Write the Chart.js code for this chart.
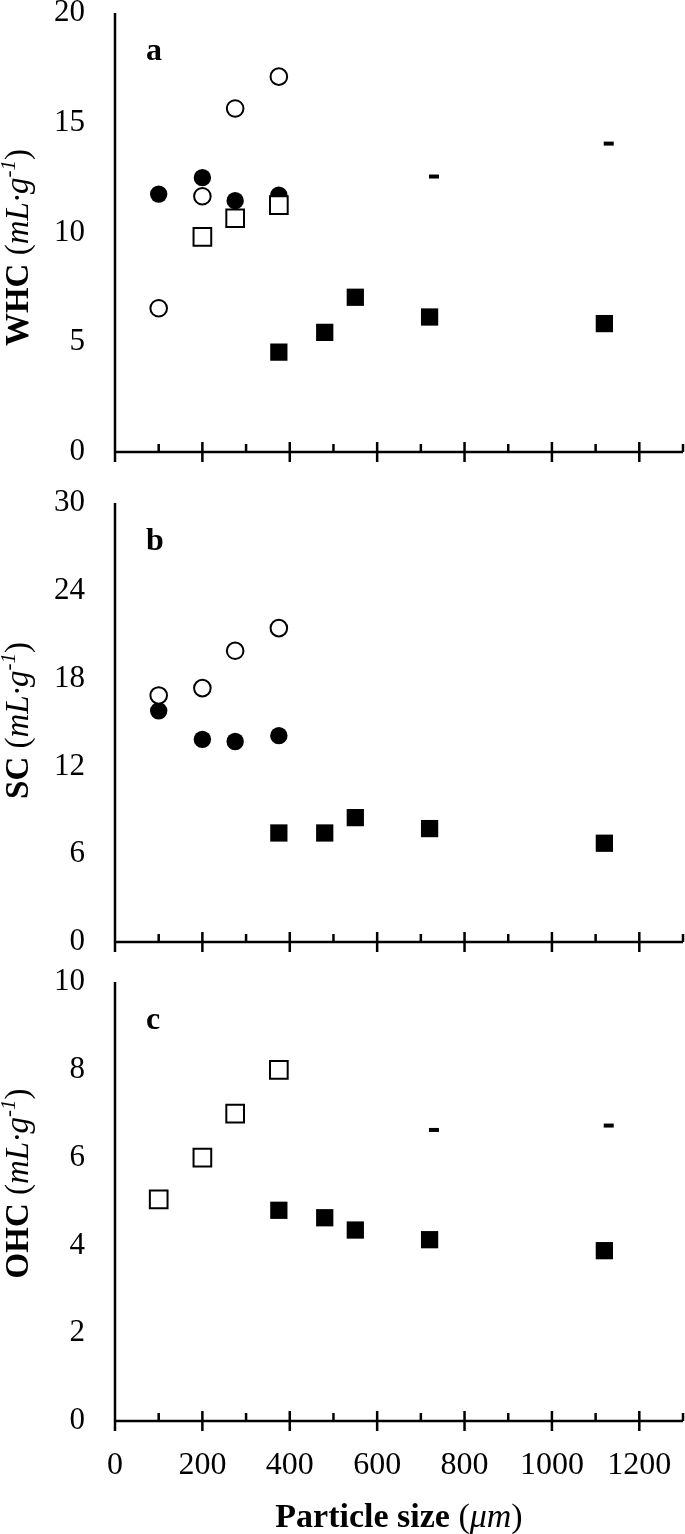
<!DOCTYPE html>
<html>
<head>
<meta charset="utf-8">
<script src="https://cdn.jsdelivr.net/npm/chart.js@4/dist/chart.umd.min.js"></script>
<style>
  html, body { margin: 0; padding: 0; background: #fff; overflow: hidden; }
  body { width: 685px; height: 1534px; position: relative; }
  canvas { position: absolute; left: 0; }
</style>
</head>
<body>
<canvas id="ca" width="700" height="540" style="top:-37px"></canvas>
<canvas id="cb" width="700" height="540" style="top:453px"></canvas>
<canvas id="cc" width="700" height="602" style="top:932px"></canvas>
<script>
// ---------- data ----------
const xGroupA = [100, 200, 275, 375];          // open / filled circles
const xOpenSquareA = [200, 275, 375];
const xOpenSquareC = [100, 200, 275, 375];
const xFilledSquare = [375, 480, 550, 720, 1120];
const xDash = [730, 1130];

const whcOpenCircle  = [6.55, 11.65, 15.65, 17.1];
const whcFilledCircle = [11.75, 12.5, 11.45, 11.7];
const whcOpenSquare  = [9.8, 10.65, 11.25];
const whcFilledSquare = [4.55, 5.45, 7.05, 6.15, 5.85];
const whcDash        = [12.55, 14.05];

const scOpenCircle   = [16.85, 17.35, 19.9, 21.45];
const scFilledCircle = [15.8, 13.85, 13.7, 14.1];
const scFilledSquare = [7.45, 7.45, 8.5, 7.75, 6.75];

const ohcOpenSquare  = [5.05, 6.0, 7.0, 8.0];
const ohcFilledSquare = [4.8, 4.63, 4.35, 4.13, 3.88];
const ohcDash        = [6.63, 6.73];

const yTicksA = [0, 5, 10, 15, 20];
const yTicksB = [0, 6, 12, 18, 24, 30];
const yTicksC = [0, 2, 4, 6, 8, 10];
const xTicks  = [0, 200, 400, 600, 800, 1000, 1200];
const xMinorTicks = [100, 300, 500, 700, 900, 1100, 1300];
const xMax = 1300;

const FONT = "'Liberation Serif', 'Times New Roman', serif";

function pts(xs, ys) { return xs.map((x, i) => ({ x: x, y: ys[i] })); }

const styles = {
  openCircle:  { pointStyle: 'circle', pointRadius: 8.3, pointBorderWidth: 2, pointBackgroundColor: '#fff', pointBorderColor: '#000' },
  filledCircle:{ pointStyle: 'circle', pointRadius: 8.7, pointBorderWidth: 0, pointBackgroundColor: '#000', pointBorderColor: '#000' },
  openSquare:  { pointStyle: 'rect', pointRadius: 12.5, pointBorderWidth: 2, pointBackgroundColor: '#fff', pointBorderColor: '#000' },
  filledSquare:{ pointStyle: 'rect', pointRadius: 12.2, pointBorderWidth: 0, pointBackgroundColor: '#000', pointBorderColor: '#000' },
  dash:        { pointStyle: 'line', pointRadius: 5, pointBorderWidth: 4, pointBackgroundColor: '#000', pointBorderColor: '#000' }
};

function ds(data, style) {
  return Object.assign({ data: data, showLine: false }, styles[style], { pointHoverRadius: styles[style].pointRadius });
}

function drawRich(ctx, segs, x, y, rotate) {
  ctx.save();
  ctx.translate(x, y);
  if (rotate) ctx.rotate(-Math.PI / 2);
  let total = 0;
  segs.forEach(s => { ctx.font = s.font; total += ctx.measureText(s.text).width; });
  let cx = -total / 2;
  ctx.textBaseline = 'alphabetic';
  ctx.textAlign = 'left';
  ctx.fillStyle = '#000';
  segs.forEach(s => {
    ctx.font = s.font;
    ctx.fillText(s.text, cx, s.sup ? -13 : 0);
    cx += ctx.measureText(s.text).width;
  });
  ctx.restore();
}

function yTitle(name) {
  return [
    { text: name + ' ', font: 'bold 33px ' + FONT },
    { text: '(', font: '33px ' + FONT },
    { text: 'mL·g', font: 'italic 33px ' + FONT },
    { text: '-1', font: 'italic 21px ' + FONT, sup: true },
    { text: ')', font: '33px ' + FONT }
  ];
}

const axesPlugin = {
  id: 'axesPlugin',
  beforeDatasetsDraw(chart) {
    const ctx = chart.ctx;
    const xs = chart.scales.x, ys = chart.scales.y;
    const o = chart.options.plugins.axesPlugin;
    const x0 = xs.getPixelForValue(0);
    const y0 = ys.getPixelForValue(0);
    const yTop = ys.getPixelForValue(ys.max);
    const xEnd = xs.getPixelForValue(xMax);
    ctx.save();
    ctx.strokeStyle = '#000';
    ctx.lineWidth = 2.5;
    ctx.lineCap = 'butt';
    ctx.beginPath();
    ctx.moveTo(x0, yTop); ctx.lineTo(x0, y0);
    ctx.moveTo(x0 - 1.25, y0); ctx.lineTo(xEnd, y0);
    xTicks.forEach(v => { const p = xs.getPixelForValue(v); ctx.moveTo(p, y0 - 10); ctx.lineTo(p, y0 + 10); });
    xMinorTicks.forEach(v => { const p = xs.getPixelForValue(v); ctx.moveTo(p, y0 - 8); ctx.lineTo(p, y0); });
    ctx.stroke();
    // panel letter
    ctx.fillStyle = '#000';
    ctx.font = 'bold 32px ' + FONT;
    ctx.textAlign = 'left';
    ctx.textBaseline = 'alphabetic';
    ctx.fillText(o.letter, 146, yTop + 47);
    // y title
    drawRich(ctx, yTitle(o.title), 28, (yTop + y0) / 2 + o.titleShift, true);
    if (o.xTitle) {
      drawRich(ctx, [
        { text: 'Particle size ', font: 'bold 34px ' + FONT },
        { text: '(', font: '34px ' + FONT },
        { text: 'μm', font: 'italic 34px ' + FONT },
        { text: ')', font: '34px ' + FONT }
      ], (x0 + xEnd) / 2, o.xTitleY, false);
    }
    ctx.restore();
  }
};

// canvasTop: page y of canvas top; chartTop/chartBottom: page y of plot area
function makePanel(id, canvasTop, chartTop, chartBottom, canvasHeight, yTicks, datasets, letter, title, titleShift, showX) {
  const padTop = chartTop - canvasTop;
  const xHeight = canvasHeight - (chartBottom - canvasTop);
  new Chart(document.getElementById(id), {
    type: 'scatter',
    data: { datasets: datasets },
    plugins: [axesPlugin],
    options: {
      responsive: false,
      animation: false,
      devicePixelRatio: 1,
      layout: { padding: { top: padTop, right: 17, left: 0, bottom: 0 } },
      plugins: {
        legend: { display: false },
        tooltip: { enabled: false },
        axesPlugin: { letter: letter, title: title, titleShift: titleShift, xTitle: showX, xTitleY: 1527 - canvasTop }
      },
      scales: {
        x: {
          type: 'linear', min: 0, max: xMax,
          grid: { display: false, drawTicks: false },
          border: { display: false },
          afterBuildTicks: s => { s.ticks = xTicks.map(v => ({ value: v })); },
          afterFit: s => { s.height = xHeight; },
          ticks: { display: showX, padding: 25, color: '#000', font: { family: FONT, size: 32 }, maxRotation: 0, autoSkip: false, callback: v => String(v) }
        },
        y: {
          type: 'linear', min: yTicks[0], max: yTicks[yTicks.length - 1],
          grid: { display: false, drawTicks: false },
          border: { display: false },
          afterBuildTicks: s => { s.ticks = yTicks.map(v => ({ value: v })); },
          afterFit: s => { s.width = 115; },
          ticks: { padding: 30, color: '#000', font: { family: FONT, size: 31 }, autoSkip: false, callback: v => String(v) }
        }
      }
    }
  });
}

makePanel('ca', -37, 13, 452, 540, yTicksA, [
  ds(pts(xOpenSquareA, whcOpenSquare), 'openSquare'),
  ds(pts(xGroupA, whcOpenCircle), 'openCircle'),
  ds(pts(xFilledSquare, whcFilledSquare), 'filledSquare'),
  ds(pts(xDash, whcDash), 'dash'),
  ds(pts(xGroupA, whcFilledCircle), 'filledCircle')
], 'a', 'WHC', 15, false);

makePanel('cb', 453, 503, 942, 540, yTicksB, [
  ds(pts(xGroupA, scOpenCircle), 'openCircle'),
  ds(pts(xFilledSquare, scFilledSquare), 'filledSquare'),
  ds(pts(xGroupA, scFilledCircle), 'filledCircle')
], 'b', 'SC', -2, false);

makePanel('cc', 932, 982, 1421, 602, yTicksC, [
  ds(pts(xOpenSquareC, ohcOpenSquare), 'openSquare'),
  ds(pts(xFilledSquare, ohcFilledSquare), 'filledSquare'),
  ds(pts(xDash, ohcDash), 'dash')
], 'c', 'OHC', -18, true);
</script>
</body>
</html>
